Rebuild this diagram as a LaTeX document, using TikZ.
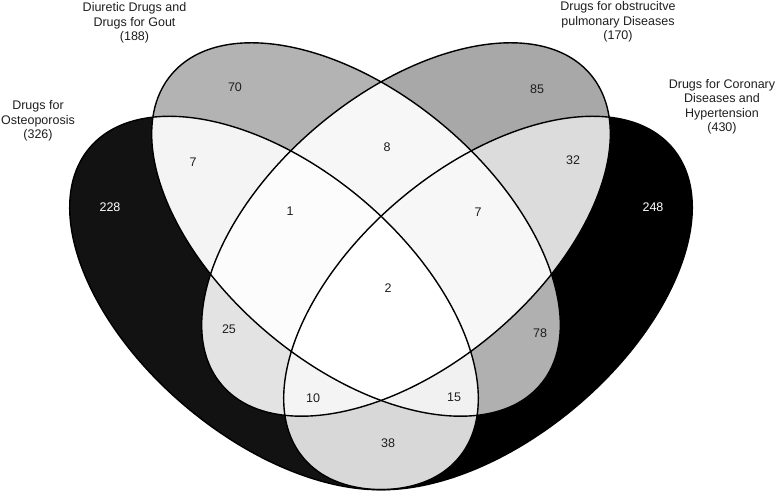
\documentclass[tikz,border=0pt]{standalone}
\usepackage{fontspec}
\setmainfont{Liberation Sans}
\definecolor{cA}{HTML}{121212}
\definecolor{cD}{HTML}{000000}
\definecolor{cB}{HTML}{B3B3B3}
\definecolor{cC}{HTML}{A8A8A8}
\definecolor{cAB}{HTML}{F4F4F4}
\definecolor{cAC}{HTML}{E3E3E3}
\definecolor{cAD}{HTML}{D8D8D8}
\definecolor{cBC}{HTML}{F7F7F7}
\definecolor{cBD}{HTML}{B0B0B0}
\definecolor{cCD}{HTML}{DCDCDC}
\definecolor{cABC}{HTML}{FCFCFC}
\definecolor{cABD}{HTML}{F1F1F1}
\definecolor{cACD}{HTML}{F4F4F4}
\definecolor{cBCD}{HTML}{F7F7F7}
\definecolor{cABCD}{HTML}{FFFFFF}
\definecolor{txt}{HTML}{1E1E1E}
\def\ra{241}
\def\rb{136}
\def\pA{(274,189) ellipse [x radius=\ra, y radius=\rb]}
\def\pB{(356,262.5) ellipse [x radius=\ra, y radius=\rb]}
\def\pC{(406,262.5) ellipse [x radius=\ra, y radius=\rb]}
\def\pD{(488,189) ellipse [x radius=\ra, y radius=\rb]}
\tikzset{
  eA/.style={rotate around={-40:(274,189)}},
  eB/.style={rotate around={-40:(356,262.5)}},
  eC/.style={rotate around={40:(406,262.5)}},
  eD/.style={rotate around={40:(488,189)}},
  edge/.style={draw=black, line width=1.4pt},
  lab/.style={font=\fontsize{12.5}{14.5}\selectfont, align=center, text=txt, inner sep=0pt},
  num/.style={font=\fontsize{12.5}{14.5}\selectfont, text=txt, inner sep=0pt},
  wnum/.style={num, text=white}
}
\begin{document}
\begin{tikzpicture}[x=1pt,y=1pt]
\useasboundingbox (0,0) rectangle (780,492);
% single sets
\fill[cA, eA] \pA;
\fill[cD, eD] \pD;
\fill[cB, eB] \pB;
\fill[cC, eC] \pC;
% pairs
\begin{scope}\clip[eA] \pA; \fill[cAB, eB] \pB; \end{scope}
\begin{scope}\clip[eA] \pA; \fill[cAC, eC] \pC; \end{scope}
\begin{scope}\clip[eA] \pA; \fill[cAD, eD] \pD; \end{scope}
\begin{scope}\clip[eB] \pB; \fill[cBC, eC] \pC; \end{scope}
\begin{scope}\clip[eB] \pB; \fill[cBD, eD] \pD; \end{scope}
\begin{scope}\clip[eC] \pC; \fill[cCD, eD] \pD; \end{scope}
% triples
\begin{scope}\clip[eA] \pA; \clip[eB] \pB; \fill[cABC, eC] \pC; \end{scope}
\begin{scope}\clip[eA] \pA; \clip[eB] \pB; \fill[cABD, eD] \pD; \end{scope}
\begin{scope}\clip[eA] \pA; \clip[eC] \pC; \fill[cACD, eD] \pD; \end{scope}
\begin{scope}\clip[eB] \pB; \clip[eC] \pC; \fill[cBCD, eD] \pD; \end{scope}
% all four
\begin{scope}\clip[eA] \pA; \clip[eB] \pB; \clip[eC] \pC; \fill[cABCD, eD] \pD; \end{scope}
% outlines
\draw[edge, eA] \pA;
\draw[edge, eB] \pB;
\draw[edge, eC] \pC;
\draw[edge, eD] \pD;
% set labels
\node[lab] (tA) at (38,371) {Drugs for\\Osteoporosis\\(326)};
\node[lab] (tB) at (134.5,469) {Diuretic Drugs and\\Drugs for Gout\\(188)};
\node[lab] (tC) at (618,470) {Drugs for obstrucitve\\pulmonary Diseases\\(170)};
\node[lab] (tD) at (722,385) {Drugs for Coronary\\Diseases and\\Hypertension\\(430)};
% counts
\node[wnum] (nA) at (110,285) {228};
\node[num] (nB) at (235,405) {70};
\node[num] (nC) at (537,403) {85};
\node[wnum] (nD) at (653,285) {248};
\node[num] (nAB) at (193,330) {7};
\node[num] (nBC) at (387,345) {8};
\node[num] (nCD) at (573,332) {32};
\node[num] (nABC) at (290,281) {1};
\node[num] (nBCD) at (478,280) {7};
\node[num] (nABCD) at (388,204) {2};
\node[num] (nAC) at (229,163) {25};
\node[num] (nBD) at (540,159) {78};
\node[num] (nACD) at (313,94) {10};
\node[num] (nABD) at (454,95) {15};
\node[num] (nAD) at (388,49) {38};
\end{tikzpicture}
\end{document}
